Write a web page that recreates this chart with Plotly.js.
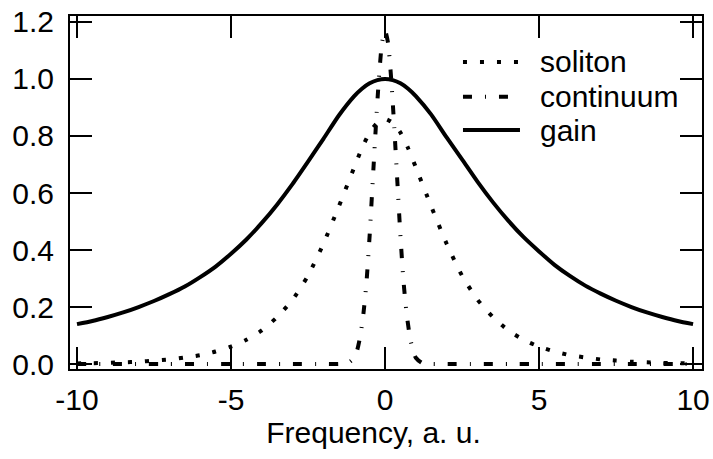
<!DOCTYPE html>
<html>
<head>
<meta charset="utf-8">
<script src="https://cdn.plot.ly/plotly-3.0.1.min.js"></script>
<style>html,body{margin:0;padding:0;background:#fff;}#chart{width:713px;height:459px;}</style>
</head>
<body>
<div id="chart"></div>
<script>
// Frequency grid (a. u.)
const freq = [-10,-9.5,-9,-8.5,-8,-7.5,-7,-6.5,-6,-5.5,-5,-4.5,-4,-3.5,-3,-2.5,-2,-1.5,-1,-0.75,-0.5,-0.25,0,
              0.25,0.5,0.75,1,1.5,2,2.5,3,3.5,4,4.5,5,5.5,6,6.5,7,7.5,8,8.5,9,9.5,10];
// gain spectrum
const gain = [0.14,0.151,0.165,0.181,0.2,0.221,0.245,0.272,0.305,0.342,0.387,0.437,0.495,0.56,0.632,0.71,0.79,0.872,0.94,0.966,0.985,0.996,1.0,
              0.996,0.985,0.966,0.94,0.875,0.795,0.718,0.64,0.568,0.503,0.445,0.395,0.348,0.309,0.275,0.247,0.222,0.2,0.181,0.165,0.151,0.14];
// soliton spectrum
const soliton = [0.002,0.003,0.004,0.006,0.008,0.012,0.016,0.023,0.031,0.044,0.061,0.085,0.118,0.165,0.226,0.31,0.422,0.553,0.69,0.757,0.812,0.846,0.86,
                 0.846,0.812,0.757,0.69,0.553,0.422,0.31,0.226,0.165,0.118,0.085,0.061,0.044,0.031,0.023,0.016,0.012,0.008,0.006,0.004,0.003,0.002];
// continuum spectrum (narrow peak)
const freqCont = [-10,-9,-8,-7,-6,-5,-4,-3,-2,-1.5,-1.2,-1.0,-0.9,-0.8,-0.7,-0.6,-0.5,-0.4,-0.3,-0.2,-0.1,0,
                  0.1,0.2,0.3,0.4,0.5,0.6,0.7,0.8,0.9,1.0,1.2,1.5,2,3,4,5,6,7,8,9,10];
const continuum = [0,0,0,0,0,0,0,0,0,0,0.004,0.022,0.05,0.1,0.178,0.29,0.45,0.64,0.83,1.0,1.125,1.17,
                   1.125,1.0,0.83,0.64,0.45,0.29,0.178,0.1,0.05,0.022,0.004,0,0,0,0,0,0,0,0,0,0];

const xTicks = [-10,-5,0,5,10];
const yTicks = [0,0.2,0.4,0.6,0.8,1.0,1.2];
const names = ['soliton','continuum','gain'];

const FONT = 'Liberation Sans, Arial, Helvetica, sans-serif';
const FS = 30;
const dashes = ['4px,13px', '9px,13px,1px,13px', 'solid'];

const traces = [
  {x: freq, y: soliton, name: names[0], mode: 'lines',
   line: {color: '#000', width: 4, dash: dashes[0], shape: 'spline', smoothing: 0.6}},
  {x: freqCont, y: continuum, name: names[1], mode: 'lines',
   line: {color: '#000', width: 4, dash: dashes[1], shape: 'spline', smoothing: 0.6}},
  {x: freq, y: gain, name: names[2], mode: 'lines',
   line: {color: '#000', width: 4, dash: dashes[2], shape: 'spline', smoothing: 0.6}}
];

// legend drawn as layout decorations (sample line + label)
const legRowY = [0.8697, 0.7714, 0.677];
const legX0 = 0.6218, legX1 = [0.712, 0.694, 0.712], legTextX = 0.7405;
const shapes = names.map((n, i) => ({
  type: 'line', xref: 'paper', yref: 'paper', x0: legX0, x1: legX1[i], y0: legRowY[i], y1: legRowY[i],
  line: {color: '#000', width: 4, dash: dashes[i]}
}));
const annotations = names.map((n, i) => ({
  xref: 'paper', yref: 'paper', x: legTextX, y: legRowY[i], xanchor: 'left', yanchor: 'middle',
  text: n, showarrow: false, font: {family: FONT, size: FS, color: '#000'}
}));

const axisCommon = {
  showgrid: false, zeroline: false, showline: true, linecolor: '#000', linewidth: 2,
  mirror: 'ticks', ticks: 'inside', ticklen: 22, tickwidth: 2, tickcolor: '#000',
  tickfont: {family: FONT, size: FS, color: '#000'}
};

const layout = {
  width: 713, height: 459,
  margin: {l: 70, r: 11, t: 16, b: 90, pad: 0},
  paper_bgcolor: '#fff', plot_bgcolor: '#fff',
  font: {family: FONT, size: FS, color: '#000'},
  showlegend: false,
  shapes: shapes,
  annotations: annotations,
  xaxis: Object.assign({}, axisCommon, {
    range: [-10.227, 10.29], tickvals: xTicks, ticktext: xTicks.map(String),
    ticklabelstandoff: 3,
    title: {text: 'Frequency, a. u.&nbsp;&nbsp;&nbsp;', font: {family: FONT, size: FS, color: '#000'}, standoff: 4}
  }),
  yaxis: Object.assign({}, axisCommon, {
    range: [-0.0175, 1.221], tickvals: yTicks, ticktext: yTicks.map(v => v.toFixed(1)),
    ticklabelstandoff: 8
  })
};

Plotly.newPlot('chart', traces, layout, {staticPlot: true, displayModeBar: false});
</script>
</body>
</html>
